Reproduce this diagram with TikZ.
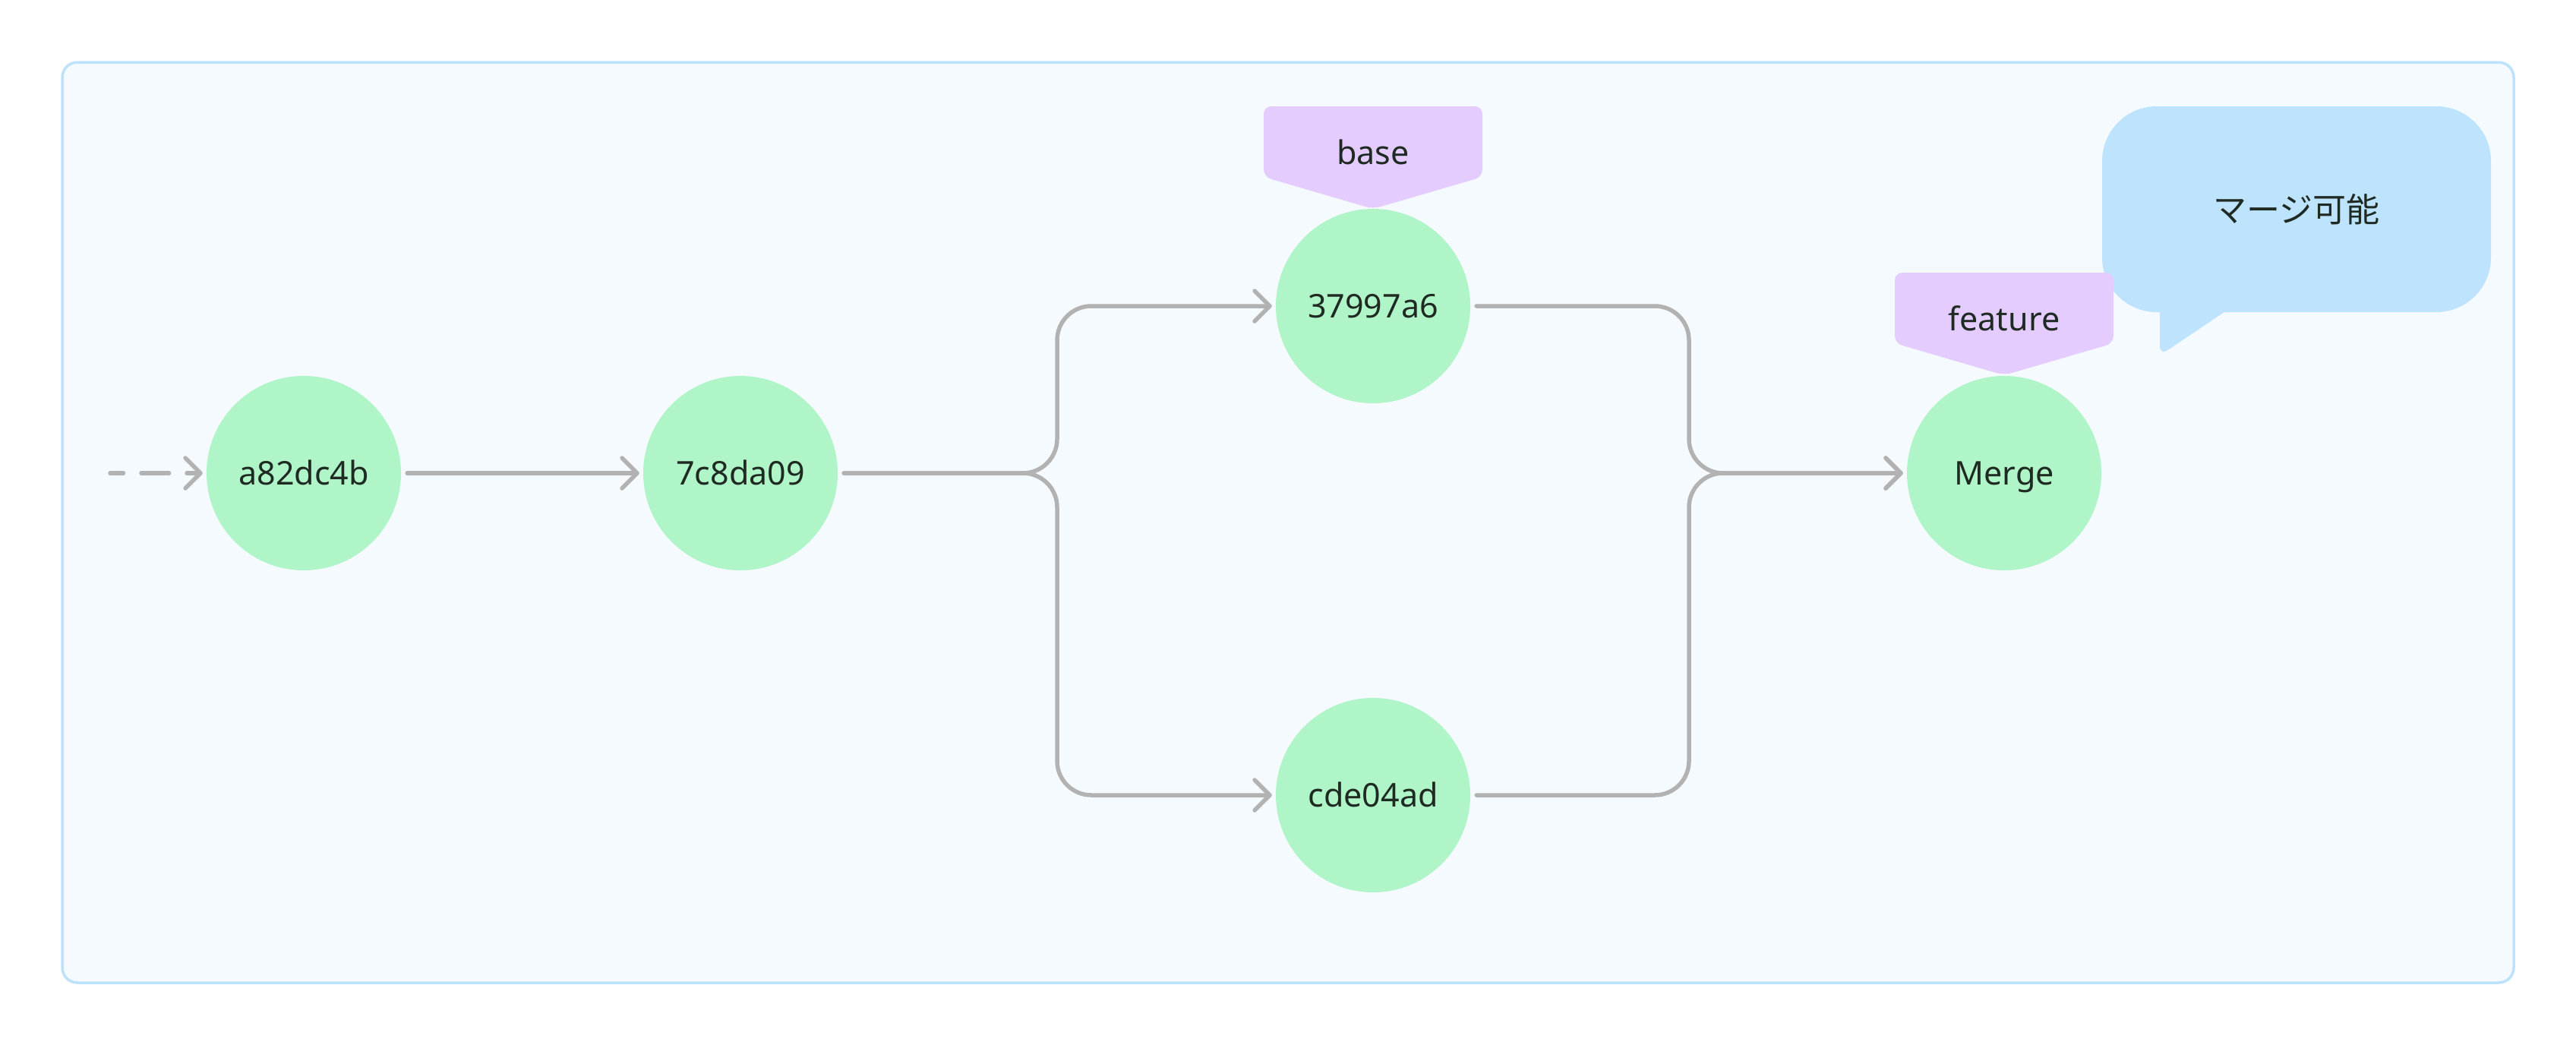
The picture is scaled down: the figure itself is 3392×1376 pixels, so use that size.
\documentclass[tikz,border=0pt]{standalone}
\usepackage{fontspec}
\setmainfont{Noto Sans}
\newfontfamily\jpfont{Noto Sans CJK JP}
\usetikzlibrary{arrows.meta}
\definecolor{framebg}{HTML}{F5FAFE}
\definecolor{frameline}{HTML}{BDE3FB}
\definecolor{commitfill}{HTML}{AFF5C8}
\definecolor{tagfill}{HTML}{E4CCFF}
\definecolor{bubblefill}{HTML}{BEE3FC}
\definecolor{linkcol}{HTML}{B2B2B2}
\definecolor{textcol}{HTML}{1F2A22}
\begin{document}
\begin{tikzpicture}[x=1pt,y=-1pt,
  commit/.style={circle, fill=commitfill, minimum size=256pt, inner sep=0pt,
    text height=30pt, text depth=0pt, font=\fontsize{43}{50}\selectfont, text=textcol},
  link/.style={draw=linkcol, line width=5.5pt, line cap=round, line join=round,
    -{Straight Barb[length=20pt,width=40pt,round]}},
  tagshape/.style={fill=tagfill, rounded corners=10pt},
  taglabel/.style={anchor=base, inner sep=0pt, font=\fontsize{43}{50}\selectfont, text=textcol},
]
\useasboundingbox (0,0) rectangle (3392,1376);
\fill[white] (0,0) rectangle (3392,1376);
\draw[fill=framebg, draw=frameline, line width=3.5pt, rounded corners=20pt] (82,82) rectangle (3310,1294);

% commits
\node[commit] (c1) at (400,623) {a82dc4b};
\node[commit] (c2) at (975,623) {7c8da09};
\node[commit] (c3) at (1808,403) {37997a6};
\node[commit] (c4) at (1808,1047) {cde04ad};
\node[commit] (merge) at (2639,623) {Merge};

% connectors
\coordinate (origin) at (145,623);
\coordinate (split) at (1392,623);
\coordinate (join) at (2224,623);
\draw[link, dash pattern=on 36.5pt off 23.5pt, dash phase=19pt] (origin) -- ([xshift=-5pt]c1.west);
\draw[link] ([xshift=8pt]c1.east) -- ([xshift=-5pt]c2.west);
\draw[link, rounded corners=45pt] ([xshift=8pt]c2.east) -- (split) |- ([xshift=-5pt]c3.west);
\draw[link, rounded corners=45pt] ([xshift=8pt]c2.east) -- (split) |- ([xshift=-5pt]c4.west);
\draw[link, rounded corners=45pt] ([xshift=8pt]c3.east) -| (join) -- ([xshift=-5pt]merge.west);
\draw[link, rounded corners=45pt] ([xshift=8pt]c4.east) -| (join) -- ([xshift=-5pt]merge.west);

% speech bubble
\fill[bubblefill, rounded corners=72pt] (2768,140) rectangle (3280,411);
\fill[bubblefill, rounded corners=12pt] (2844,400) -- (2844,468) -- (2945,400) -- cycle;
\node[anchor=base, inner sep=0pt, font=\jpfont\fontsize{44}{52}\selectfont, text=textcol] (bubbletext) at (3024,292) {マージ可能};

% branch tags
\fill[tagshape] (1664,140) -- (1952,140) -- (1952,233) -- (1808,275) -- (1664,233) -- cycle;
\node[taglabel] (tbase) at (1808,216) {base};
\fill[tagshape] (2495,359) -- (2783,359) -- (2783,452) -- (2639,494) -- (2495,452) -- cycle;
\node[taglabel] (tfeature) at (2639,435) {feature};
\end{tikzpicture}
\end{document}
